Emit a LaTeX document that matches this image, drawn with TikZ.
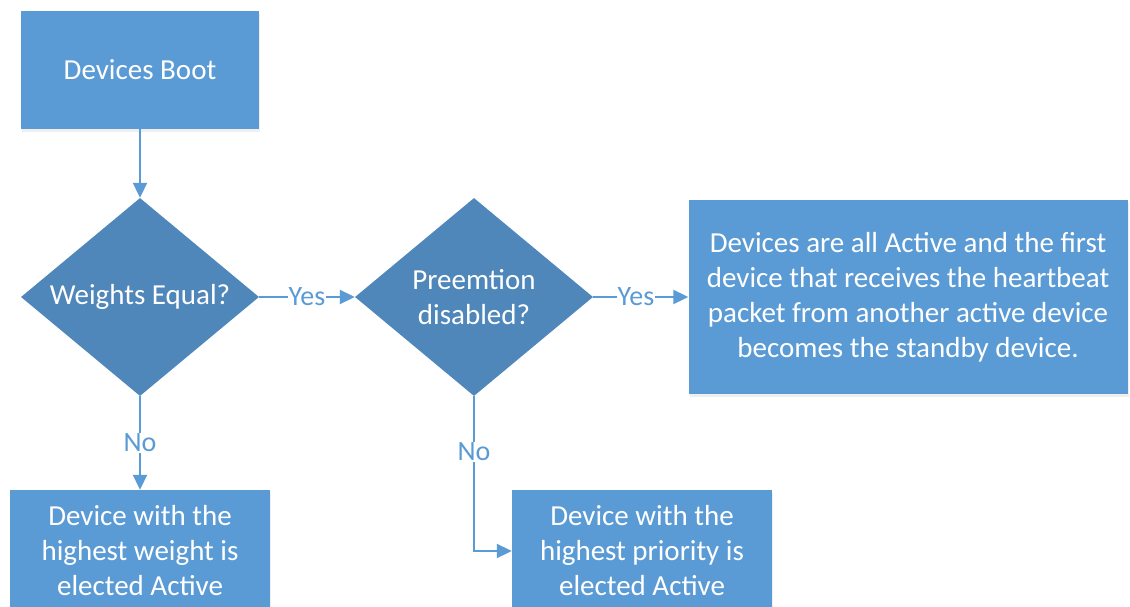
\documentclass[tikz,border=0pt]{standalone}
\usepackage{fontspec}
\setmainfont{Carlito}
\usetikzlibrary{shapes.geometric,arrows.meta,shadows}
\definecolor{boxblue}{HTML}{5B9BD5}
\definecolor{diablue}{HTML}{4F87BA}
\begin{document}
\begin{tikzpicture}[x=1pt,y=-1pt,
  box/.style={rectangle, fill=boxblue, text=white, align=center, inner sep=0pt,
    drop shadow={opacity=0.12, shadow xshift=1pt, shadow yshift=-3pt},
    font=\fontsize{29}{35}\selectfont},
  dia/.style={diamond, aspect=1.2, fill=diablue, text=white, align=center, inner sep=0pt,
    minimum width=238pt, minimum height=198pt, font=\fontsize{29}{35}\selectfont},
  flow/.style={draw=boxblue, line width=2pt, -{Triangle[width=14pt,length=15pt]}},
  lbl/.style={fill=white, text=boxblue, inner sep=1pt, font=\fontsize{28}{34}\selectfont}]
\clip (0,0) rectangle (1130,607);
\fill[white] (0,0) rectangle (1130,607);
\node[box, minimum width=238pt, minimum height=118pt] (boot) at (140,70){Devices Boot};
\node[dia] (weq) at (140,297){Weights Equal?};
\node[dia] (pre) at (474,297){Preemtion\\disabled?};
\node[box, minimum width=439pt, minimum height=194pt] (allact) at (908,297){Devices are all Active and the first\\device that receives the heartbeat\\packet from another active device\\becomes the standby device.};
\node[box, minimum width=260pt, minimum height=122pt] (hiweight) at (140,551){Device with the\\highest weight is\\elected Active};
\node[box, minimum width=260pt, minimum height=122pt] (hiprio) at (642,551){Device with the\\highest priority is\\elected Active};
\draw[flow] (boot) -- (weq);
\draw[flow] (weq) -- node[lbl]{Yes} (pre);
\draw[flow] (pre) -- node[lbl, pos=0.45]{Yes} (allact);
\draw[flow] (weq) -- node[lbl]{No} (hiweight);
\draw[flow] (pre.south) |- node[lbl, pos=0.18]{No} (hiprio.west);
\end{tikzpicture}
\end{document}
